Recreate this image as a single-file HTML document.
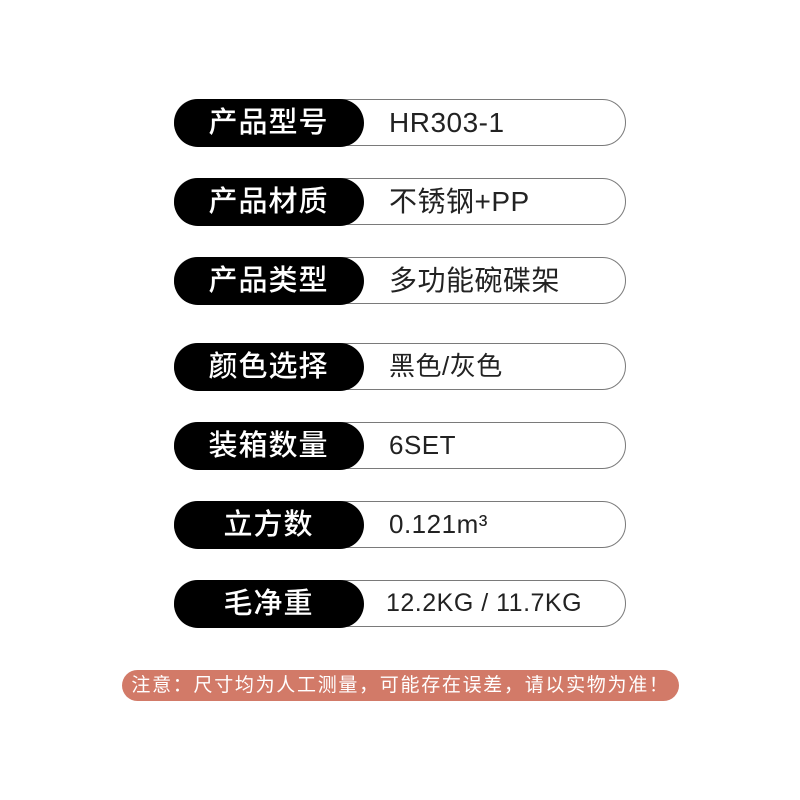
<!DOCTYPE html>
<html><head><meta charset="utf-8"><style>
body{margin:0;width:800px;height:800px;background:#fff;position:relative;font-family:"Liberation Sans","Noto Sans CJK SC",sans-serif;overflow:hidden}
.row{position:absolute;left:174px;width:450px;height:45px;border:1.5px solid #7a7a7a;border-radius:24px;}
.lab{position:absolute;left:-1.5px;top:-1.5px;width:190px;height:48px;background:#000;border-radius:24px;color:#fff;font-size:29px;line-height:48px;text-align:center;letter-spacing:1px;font-weight:500}
.val{position:absolute;left:214px;top:0;line-height:45px;font-size:28px;color:#222;letter-spacing:0.5px}
.note{position:absolute;left:122px;top:670px;width:557px;height:31px;background:#d27a68;border-radius:16px;color:#fff;font-size:19px;line-height:31px;text-align:center;letter-spacing:1.7px}
</style></head><body>
<div class="row" style="top:99px"><div class="lab">产品型号</div><div class="val">HR303-1</div></div>
<div class="row" style="top:178px"><div class="lab">产品材质</div><div class="val">不锈钢+PP</div></div>
<div class="row" style="top:257px"><div class="lab">产品类型</div><div class="val">多功能碗碟架</div></div>
<div class="row" style="top:343px"><div class="lab">颜色选择</div><div class="val" style="font-size:26px">黑色/灰色</div></div>
<div class="row" style="top:422px"><div class="lab">装箱数量</div><div class="val" style="font-size:26px">6SET</div></div>
<div class="row" style="top:501px"><div class="lab">立方数</div><div class="val" style="font-size:26px">0.121m³</div></div>
<div class="row" style="top:580px"><div class="lab">毛净重</div><div class="val" style="left:211px;font-size:25px">12.2KG / 11.7KG</div></div>
<div class="note">注意：尺寸均为人工测量，可能存在误差，请以实物为准！</div>
</body></html>
